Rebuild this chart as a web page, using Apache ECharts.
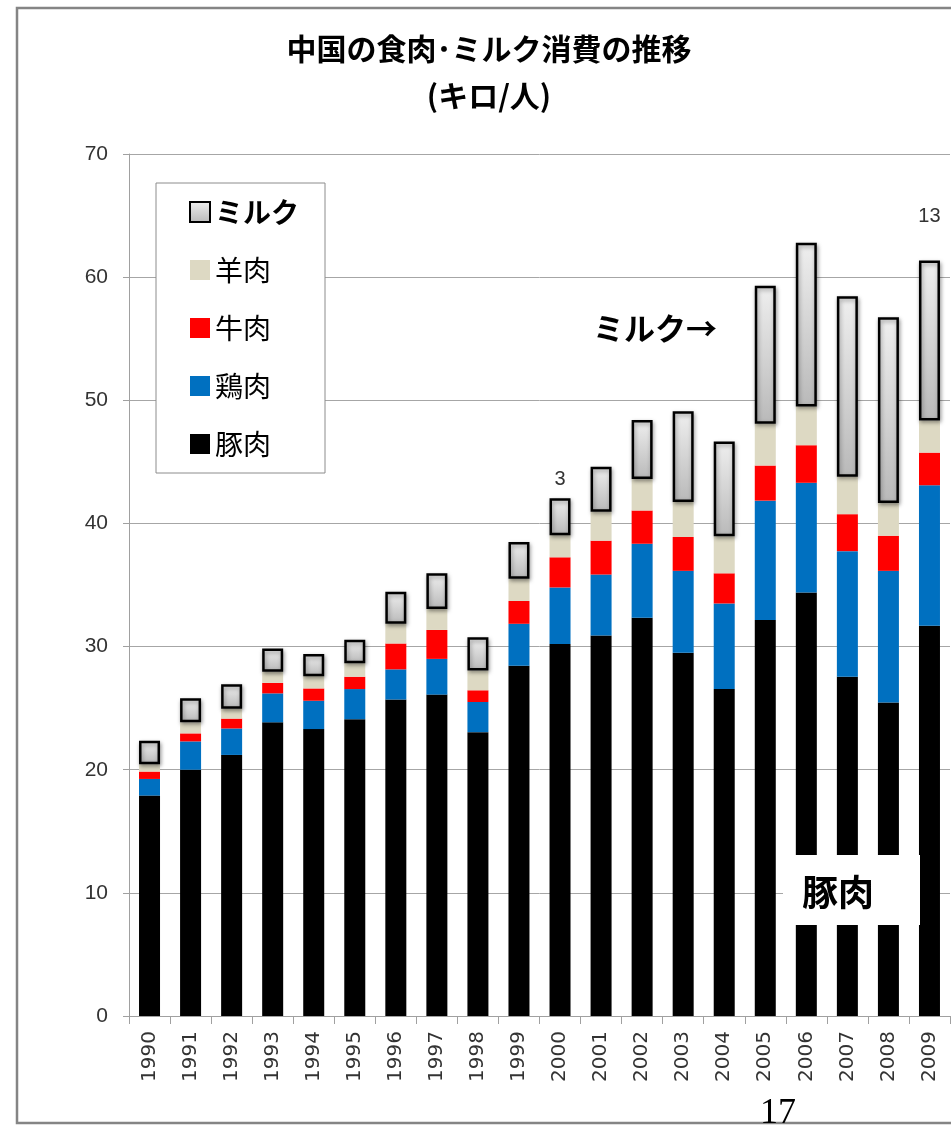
<!DOCTYPE html>
<html>
<head>
<meta charset="utf-8">
<title>中国の食肉・ミルク消費の推移</title>
<script src="https://cdn.jsdelivr.net/npm/echarts@6/dist/echarts.min.js"></script>
<style>
  html, body { margin: 0; padding: 0; background: #ffffff; }
  #chart { width: 951px; height: 1134px; }
</style>
</head>
<body>
<div id="chart"></div>
<script>
// Per-capita consumption in China, kg per person per year
const years = ['1990','1991','1992','1993','1994','1995','1996','1997','1998','1999',
               '2000','2001','2002','2003','2004','2005','2006','2007','2008','2009'];
const pork    = [17.9, 20.0, 21.2, 23.85, 23.3, 24.1, 25.7, 26.1, 23.05, 28.45,
                 30.2, 30.9, 32.35, 29.5, 26.55, 32.15, 34.4, 27.55, 25.45, 31.7];
const chicken = [1.35, 2.3, 2.15, 2.35, 2.3, 2.45, 2.45, 2.9, 2.45, 3.4,
                 4.6, 4.95, 6.0, 6.65, 6.95, 9.7, 8.9, 10.2, 10.7, 11.4];
const beef    = [0.6, 0.65, 0.8, 0.85, 1.0, 1.0, 2.1, 2.35, 0.95, 1.85,
                 2.45, 2.75, 2.7, 2.75, 2.45, 2.85, 3.05, 3.0, 2.85, 2.65];
const mutton  = [0.6, 0.9, 0.8, 0.9, 1.0, 1.1, 1.6, 1.7, 1.6, 1.8,
                 1.8, 2.35, 2.55, 2.85, 3.0, 3.4, 3.15, 3.05, 2.65, 2.6];
const milk    = [1.9, 1.95, 2.0, 1.9, 1.8, 1.9, 2.6, 2.9, 2.7, 3.0,
                 3, 3.65, 4.8, 7.35, 7.7, 11.2, 13.3, 14.65, 15.1, 13];
// years whose milk value is printed above the bar
const milkLabelYears = ['2000', '2009'];
const yTicks = { min: 0, max: 70, interval: 10 };

const chart = echarts.init(document.getElementById('chart'), null, { renderer: 'canvas' });

const BAR_W = 21;
const jpFont = '"Noto Sans CJK JP", "Noto Sans", sans-serif';

function plainSeries(name, data, color) {
  return {
    name, type: 'bar', stack: 'total', data,
    barWidth: BAR_W,
    itemStyle: { color },
    emphasis: { disabled: true }
  };
}

// label distance above the milk bar for the labelled years
const milkLabelDistance = { '2000': 9, '2009': 34 };
const milkData = milk.map((v, i) => {
  const y = years[i];
  if (milkLabelYears.indexOf(y) < 0) return v;
  return {
    value: v,
    label: {
      show: true, position: 'top', distance: milkLabelDistance[y],
      formatter: '{c}', fontSize: 20, color: '#333333',
      fontFamily: '"Liberation Sans", Arial, sans-serif'
    }
  };
});

const milkGradient = new echarts.graphic.LinearGradient(0, 0, 0, 1, [
  { offset: 0, color: '#efefef' },
  { offset: 1, color: '#b9b9b9' }
]);

const option = {
  animation: false,
  backgroundColor: '#ffffff',
  title: {
    text: '中国の食肉･ミルク消費の推移\n(キロ/人)',
    left: 484, top: 20, textAlign: 'center',
    textStyle: { fontFamily: jpFont, fontSize: 30, fontWeight: 'bold', color: '#000000', lineHeight: 47 }
  },
  legend: {
    orient: 'vertical',
    left: 156, top: 183,
    padding: [14, 26, 14, 33],
    itemWidth: 20, itemHeight: 20, itemGap: 28,
    borderColor: '#8c8c8c', borderWidth: 1,
    backgroundColor: '#ffffff',
    icon: 'rect',
    data: [
      { name: 'ミルク', textStyle: { fontWeight: 'bold' } },
      { name: '羊肉' }, { name: '牛肉' }, { name: '鶏肉' }, { name: '豚肉' }
    ],
    textStyle: { fontFamily: jpFont, fontSize: 28, color: '#000000', lineHeight: 30 },
    selectedMode: false
  },
  grid: { left: 129, top: 154, width: 821, height: 862, containLabel: false },
  xAxis: {
    type: 'category',
    data: years,
    boundaryGap: true,
    axisLine: { show: true, lineStyle: { color: '#a0a0a0', width: 1 } },
    axisTick: { show: true, length: 8, interval: 0, lineStyle: { color: '#a0a0a0' } },
    axisLabel: {
      rotate: 90, interval: 0, margin: 15,
      fontFamily: '"DejaVu Sans", sans-serif', fontSize: 20, color: '#333333'
    },
    splitLine: { show: false }
  },
  yAxis: {
    type: 'value',
    min: yTicks.min, max: yTicks.max, interval: yTicks.interval,
    axisLine: { show: true, lineStyle: { color: '#a0a0a0', width: 1 } },
    axisTick: { show: true, length: 6, lineStyle: { color: '#a0a0a0' } },
    axisLabel: {
      margin: 21,
      fontFamily: '"Liberation Sans", Arial, sans-serif', fontSize: 21, color: '#333333'
    },
    splitLine: { show: true, lineStyle: { color: '#a6a6a6', width: 1 } }
  },
  series: [
    plainSeries('豚肉', pork, '#000000'),
    plainSeries('鶏肉', chicken, '#0070c0'),
    plainSeries('牛肉', beef, '#ff0000'),
    plainSeries('羊肉', mutton, '#ddd9c3'),
    {
      name: 'ミルク', type: 'bar', stack: 'total', data: milkData,
      barWidth: BAR_W,
      itemStyle: {
        color: milkGradient,
        borderColor: '#000000', borderWidth: 2.5,
        shadowBlur: 4, shadowColor: 'rgba(0,0,0,0.35)', shadowOffsetX: 1, shadowOffsetY: 2
      },
      emphasis: { disabled: true }
    }
  ],
  graphic: [
    {
      type: 'rect', z: -10, silent: true,
      shape: { x: 17, y: 8, width: 1000, height: 1115 },
      style: { fill: null, stroke: '#858585', lineWidth: 2.5 }
    },
    {
      type: 'text', z: 100, silent: true,
      x: 655, y: 328,
      style: {
        text: 'ミルク→', fill: '#000000', align: 'center', verticalAlign: 'middle',
        font: 'bold 31px "Noto Sans CJK JP", sans-serif'
      }
    },
    {
      type: 'rect', z: 100, silent: true,
      shape: { x: 783, y: 855, width: 137, height: 70 },
      style: { fill: '#ffffff' }
    },
    {
      type: 'text', z: 101, silent: true,
      x: 838, y: 892,
      style: {
        text: '豚肉', fill: '#000000', align: 'center', verticalAlign: 'middle',
        font: 'bold 36px "Noto Sans CJK JP", sans-serif'
      }
    },
    {
      type: 'text', z: 101, silent: true,
      x: 778, y: 1114,
      style: {
        text: '17', fill: '#000000', align: 'center', verticalAlign: 'middle',
        font: '36px "Liberation Serif", "Times New Roman", serif'
      }
    }
  ]
};

chart.setOption(option);
</script>
</body>
</html>
